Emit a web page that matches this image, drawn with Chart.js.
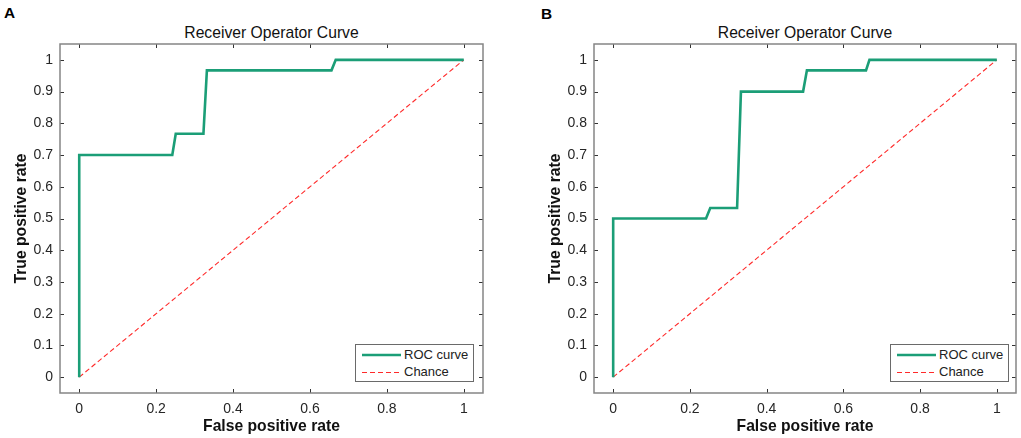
<!DOCTYPE html>
<html>
<head>
<meta charset="utf-8">
<script src="https://cdn.jsdelivr.net/npm/chart.js@4/dist/chart.umd.min.js"></script>
<style>
  html, body { margin: 0; padding: 0; background: #fff; }
  body { width: 1021px; height: 438px; position: relative; overflow: hidden;
         font-family: "Liberation Sans", Arial, Helvetica, sans-serif; }
  .wrap { position: absolute; top: 0; height: 438px; }
  .panel { position: absolute; font-weight: bold; font-size: 15.4px; line-height: 15.4px; color: #000; }
  .title { position: absolute; text-align: center; font-size: 15.7px; line-height: 15.7px; color: #111; white-space: nowrap; }
  .legend { position: absolute; background: #fff; border: 1px solid #6a6a6a; box-sizing: border-box;
            font-size: 13px; color: #222; }
  .legend .row { position: absolute; left: 0; height: 16px; line-height: 16px; white-space: nowrap; }
  .legend svg { position: absolute; left: 6px; top: 0; }
  .legend span { position: absolute; left: 48px; top: 0; }
</style>
</head>
<body>
<div class="panel" style="left:4px; top:5px;">A</div>
<div class="panel" style="left:541px; top:6px;">B</div>
<div class="title" id="titleA" style="left:60px; width:423px; top:25px;"></div>
<div class="title" id="titleB" style="left:594px; width:422px; top:25px;"></div>
<div class="wrap" style="left:0px; width:505px;"><canvas id="cA" width="505" height="438"></canvas></div>
<div class="wrap" style="left:534px; width:487px;"><canvas id="cB" width="487" height="438"></canvas></div>
<div class="legend" id="legA" style="left:355px; top:344px; width:119px; height:38px;"></div>
<div class="legend" id="legB" style="left:890px; top:344px; width:119px; height:38px;"></div>
<script>
// ---- data ----
const chartTitle = "Receiver Operator Curve";
const xAxisTitle = "False positive rate";
const yAxisTitle = "True positive rate";
const seriesLabels = ["ROC curve", "Chance"];

const xTicks = [0, 0.2, 0.4, 0.6, 0.8, 1];
const xTickLabels = ["0", "0.2", "0.4", "0.6", "0.8", "1"];
const yTicks = [0, 0.1, 0.2, 0.3, 0.4, 0.5, 0.6, 0.7, 0.8, 0.9, 1];
const yTickLabels = ["0", "0.1", "0.2", "0.3", "0.4", "0.5", "0.6", "0.7", "0.8", "0.9", "1"];

const rocA_fpr = [0, 0, 0.242, 0.251, 0.323, 0.332, 0.656, 0.667, 1];
const rocA_tpr = [0, 0.700, 0.700, 0.767, 0.767, 0.967, 0.967, 1, 1];

const rocB_fpr = [0, 0, 0.242, 0.253, 0.323, 0.333, 0.495, 0.505, 0.659, 0.668, 1];
const rocB_tpr = [0, 0.500, 0.500, 0.533, 0.533, 0.900, 0.900, 0.967, 0.967, 1, 1];

const chance_fpr = [0, 1];
const chance_tpr = [0, 1];

// ---- styles ----
const ROC_COLOR = '#1b9e77';
const CHANCE_COLOR = '#ff2a2a';
const FONT = '"Liberation Sans", Arial, Helvetica, sans-serif';

const toPts = (xs, ys) => xs.map((x, i) => ({x: x, y: ys[i]}));

const boxPlugin = {
  id: 'matlabBox',
  afterDatasetsDraw(chart) {
    const {ctx, chartArea: a, scales} = chart;
    ctx.save();
    ctx.strokeStyle = '#333';
    ctx.lineWidth = 1;
    const L = 4;
    scales.x.ticks.forEach(t => {
      const p = Math.round(scales.x.getPixelForValue(t.value)) + 0.5;
      ctx.beginPath();
      ctx.moveTo(p, a.bottom); ctx.lineTo(p, a.bottom - L);
      ctx.moveTo(p, a.top); ctx.lineTo(p, a.top + L);
      ctx.stroke();
    });
    scales.y.ticks.forEach(t => {
      const p = Math.round(scales.y.getPixelForValue(t.value)) + 0.5;
      ctx.beginPath();
      ctx.moveTo(a.left, p); ctx.lineTo(a.left + L, p);
      ctx.moveTo(a.right, p); ctx.lineTo(a.right - L, p);
      ctx.stroke();
    });
    ctx.strokeStyle = '#858585';
    ctx.lineWidth = 1.5;
    ctx.strokeRect(a.left, a.top, a.right - a.left, a.bottom - a.top);
    ctx.restore();
  }
};

function makeChart(id, fpr, tpr, padRight) {
  return new Chart(document.getElementById(id), {
    type: 'line',
    data: {
      datasets: [
        { label: seriesLabels[0], data: toPts(fpr, tpr), borderColor: ROC_COLOR,
          borderWidth: 2.6, pointRadius: 0, tension: 0, fill: false, borderJoinStyle: 'miter' },
        { label: seriesLabels[1], data: toPts(chance_fpr, chance_tpr), borderColor: CHANCE_COLOR,
          borderWidth: 1.1, borderDash: [5, 3], pointRadius: 0, tension: 0, fill: false }
      ]
    },
    options: {
      responsive: false,
      animation: false,
      layout: { padding: { left: 0, right: padRight, top: 44, bottom: 0 } },
      plugins: { legend: { display: false }, title: { display: false }, tooltip: { enabled: false } },
      scales: {
        x: {
          type: 'linear', min: -0.05, max: 1.05,
          grid: { display: false, drawTicks: false, tickLength: 0 }, border: { display: false },
          afterBuildTicks: s => { s.ticks = xTicks.map(v => ({value: v})); },
          afterFit: s => { s.height = 45; },
          ticks: { padding: 8, color: '#262626', font: { family: FONT, size: 14 },
                   callback: (v, i) => xTickLabels[i] },
          title: { display: true, text: xAxisTitle, color: '#111',
                   font: { family: FONT, size: 15.7, weight: 'bold' }, padding: { top: 0, bottom: 2 } }
        },
        y: {
          type: 'linear', min: -0.05, max: 1.05,
          grid: { display: false, drawTicks: false, tickLength: 0 }, border: { display: false },
          afterBuildTicks: s => { s.ticks = yTicks.map(v => ({value: v})); },
          afterFit: s => { s.width = 60; },
          ticks: { padding: 7, color: '#262626', font: { family: FONT, size: 14 },
                   callback: (v, i) => yTickLabels[i] },
          title: { display: true, text: yAxisTitle, color: '#111',
                   font: { family: FONT, size: 15.7, weight: 'bold' }, padding: { top: 12, bottom: 0 } }
        }
      }
    },
    plugins: [boxPlugin]
  });
}

makeChart('cA', rocA_fpr, rocA_tpr, 22);
makeChart('cB', rocB_fpr, rocB_tpr, 5);

document.getElementById('titleA').textContent = chartTitle;
document.getElementById('titleB').textContent = chartTitle;

function buildLegend(id) {
  const el = document.getElementById(id);
  const styles = [
    `<line x1="0" y1="8" x2="39" y2="8" stroke="${ROC_COLOR}" stroke-width="2.6"/>`,
    `<line x1="0" y1="8.5" x2="39" y2="8.5" stroke="${CHANCE_COLOR}" stroke-width="1.1" stroke-dasharray="5 3"/>`
  ];
  const tops = [2, 19];
  seriesLabels.forEach((lab, i) => {
    const row = document.createElement('div');
    row.className = 'row';
    row.style.top = tops[i] + 'px';
    row.style.width = '117px';
    row.innerHTML = `<svg width="40" height="16">${styles[i]}</svg><span></span>`;
    row.querySelector('span').textContent = lab;
    el.appendChild(row);
  });
}
buildLegend('legA');
buildLegend('legB');
</script>
</body>
</html>
